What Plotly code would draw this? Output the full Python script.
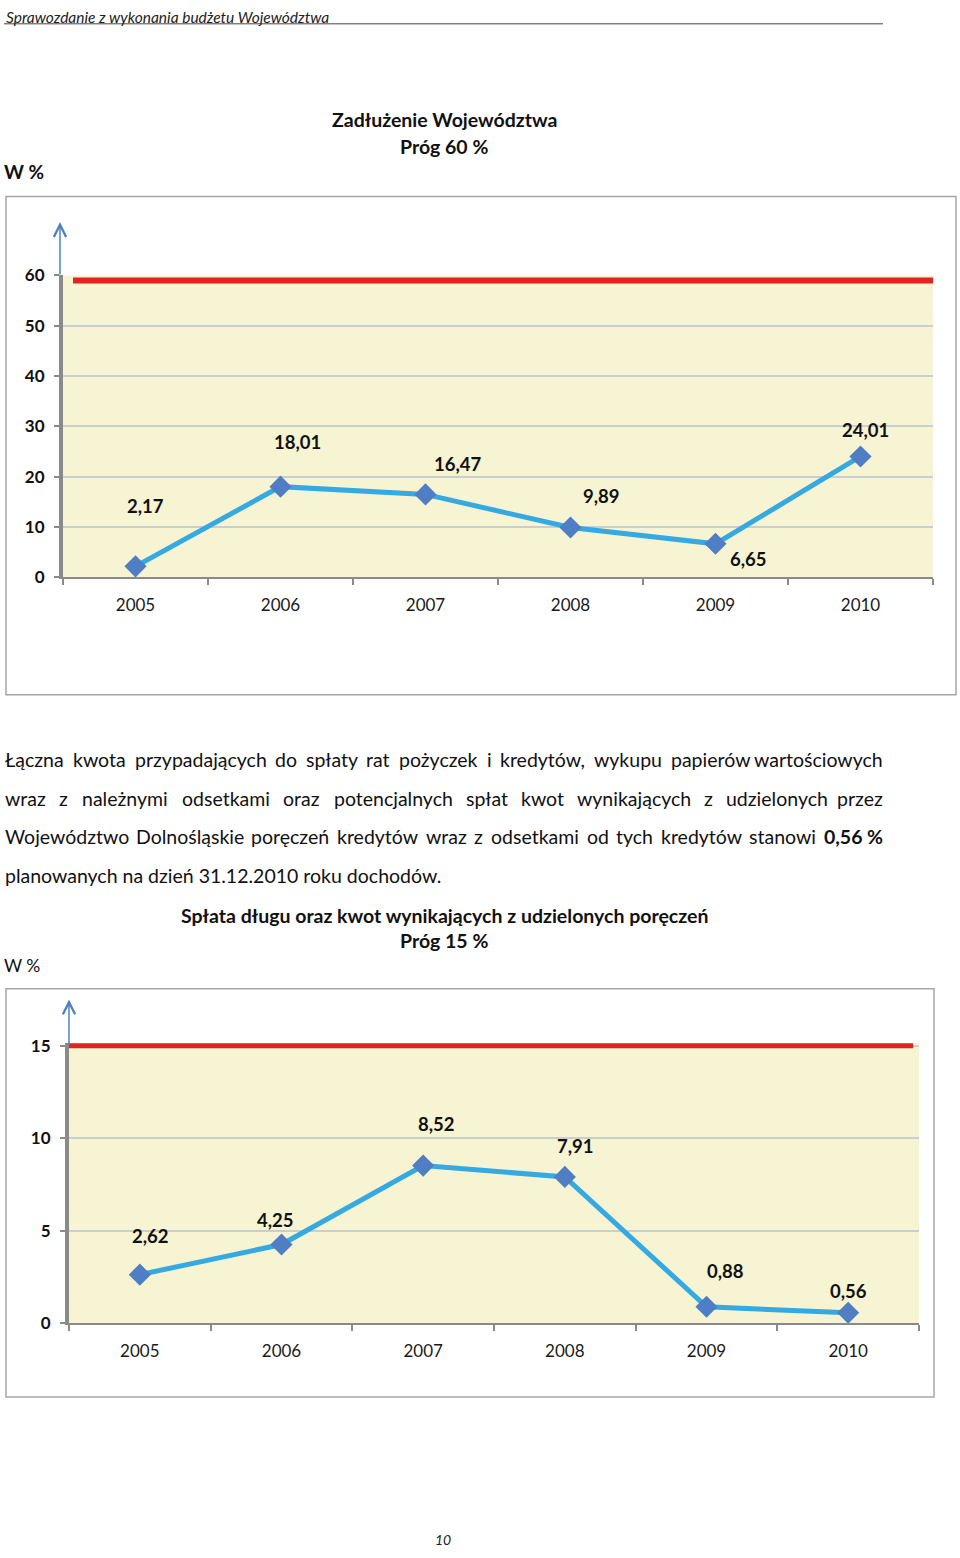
import plotly.graph_objects as go

W, H = 960, 1558
FONT = "Lato"

# ---------------- data ----------------
years = ["2005", "2006", "2007", "2008", "2009", "2010"]
debt_pct = [2.17, 18.01, 16.47, 9.89, 6.65, 24.01]          # Zadłużenie Województwa
repay_pct = [2.62, 4.25, 8.52, 7.91, 0.88, 0.56]            # Spłata długu ...
threshold_debt = 60
threshold_repay = 15
yticks_debt = [0, 10, 20, 30, 40, 50, 60]
yticks_repay = [0, 5, 10, 15]

# label offsets (pixels, right / up) for data labels
lab_off_debt = [(10, 60), (17, 45), (32, 30), (31, 32), (33, -15), (5, 26)]
lab_off_repay = [(11, 39), (-6, 25), (13, 42), (11, 31), (19, 36), (0, 22)]


def px(x):
    return x / W


def py(y):
    return 1 - y / H


def fmt(v):
    return f"{v:.2f}".replace(".", ",")


LINE_C = "#35A9E1"
MARK_C = "#4F7EC4"
RED_C = "#E2231F"
GRID_C = "#C9CDD6"
AXIS_C = "#8A8A8A"
BG_C = "#F6F4D3"

fig = go.Figure()
fig.add_trace(go.Scatter(
    x=years, y=debt_pct, mode="lines+markers", xaxis="x", yaxis="y",
    line=dict(color=LINE_C, width=5),
    marker=dict(symbol="diamond", size=17, color=MARK_C),
    showlegend=False, hoverinfo="skip"))
fig.add_trace(go.Scatter(
    x=years, y=repay_pct, mode="lines+markers", xaxis="x2", yaxis="y2",
    line=dict(color=LINE_C, width=5),
    marker=dict(symbol="diamond", size=17, color=MARK_C),
    showlegend=False, hoverinfo="skip"))

xcommon = dict(type="category", range=[-0.5, 5.5], showgrid=False, zeroline=False,
               showline=True, linecolor=AXIS_C, linewidth=1.5,
               ticks="outside", tickson="boundaries", ticklen=6, tickwidth=1.5,
               tickcolor=AXIS_C, ticklabelstandoff=12,
               tickfont=dict(family=FONT, size=17, color="#1a1a1a"))
ycommon = dict(showgrid=True, gridcolor=GRID_C, gridwidth=1.5, zeroline=False,
               showline=True, linecolor=AXIS_C, linewidth=4,
               ticks="outside", ticklen=5, tickwidth=1.5, tickcolor=AXIS_C,
               ticklabelstandoff=6,
               tickfont=dict(family=FONT, size=17, color="#111", weight="bold"))

# chart 2: plot area reaches a hair above 15 so the threshold line is not clipped
y2_top = 15.15
fig.update_layout(
    width=W, height=H, margin=dict(l=0, r=0, t=0, b=0),
    paper_bgcolor="white", plot_bgcolor=BG_C,
    xaxis=dict(**xcommon, domain=[px(63), px(933)], anchor="y"),
    yaxis=dict(**ycommon, domain=[py(574), py(268)], anchor="x",
               range=[0, 60], tickvals=yticks_debt),
    xaxis2=dict(**xcommon, domain=[px(69), px(919)], anchor="y2"),
    yaxis2=dict(**ycommon, domain=[py(1330), py(1330 - y2_top * 281 / 15)], anchor="x2",
                range=[0, y2_top], tickvals=yticks_repay),
)

shapes = []
# outer chart frames
shapes.append(dict(type="rect", xref="paper", yref="paper", x0=px(6), x1=px(956),
                   y0=py(693), y1=py(188), line=dict(color="#A6A6A6", width=1.5)))
shapes.append(dict(type="rect", xref="paper", yref="paper", x0=px(6), x1=px(934),
                   y0=py(1405), y1=py(991), line=dict(color="#A6A6A6", width=1.5)))
# header rule
shapes.append(dict(type="line", xref="paper", yref="paper", x0=px(4), x1=px(883),
                   y0=py(13), y1=py(13), line=dict(color="#444", width=1)))
# threshold lines
shapes.append(dict(type="line", xref="paper", yref="y", ysizemode="pixel",
                   yanchor=threshold_debt, y0=-5, y1=-5,
                   x0=px(73), x1=px(933), line=dict(color=RED_C, width=6)))
shapes.append(dict(type="line", xref="paper", yref="y2",
                   y0=threshold_repay, y1=threshold_repay,
                   x0=px(69), x1=px(913), line=dict(color=RED_C, width=5)))
fig.update_layout(shapes=shapes)

ann = []


def text(x, y, s, size=17, bold=False, italic=False, xanchor="left", color="#111"):
    ann.append(dict(xref="paper", yref="paper", x=px(x), y=py(y), text=s,
                    showarrow=False, xanchor=xanchor, yanchor="middle",
                    font=dict(family=FONT, size=size, color=color,
                              weight="bold" if bold else "normal",
                              style="italic" if italic else "normal")))


# header + page number
text(4, 6, "Sprawozdanie z wykonania budżetu Województwa", size=15.5, italic=True, color="#222")
text(443, 1549, "10", size=14, italic=True, xanchor="center", color="#222")

# chart 1 titles
text(444, 110, "Zadłużenie Województwa", size=19.5, bold=True, xanchor="center")
text(444, 137, "Próg 60 %", size=19.5, bold=True, xanchor="center")
text(2, 163, "W %", size=19, bold=True)

# chart 2 titles
text(444, 917, "Spłata długu oraz kwot wynikających z udzielonych poręczeń", size=19.5,
     bold=True, xanchor="center")
text(444, 942, "Próg 15 %", size=19.5, bold=True, xanchor="center")
text(2, 968, "W %", size=17.5)

# axis arrows
for (ax_x, tip_y, tail_y) in [(60, 214, 268), (69, 1002, 1049)]:
    ann.append(dict(xref="paper", yref="paper", x=px(ax_x), y=py(tip_y), ax=0,
                    ay=tail_y - tip_y, text="", showarrow=True, arrowhead=5,
                    arrowsize=1.6, arrowwidth=1.5, arrowcolor="#4F81BD"))

# data labels (category index positions)
for i, (v, (dx, dy)) in enumerate(zip(debt_pct, lab_off_debt)):
    ann.append(dict(xref="x", yref="y", x=i, y=v, text=fmt(v), showarrow=False,
                    xshift=dx, yshift=dy,
                    font=dict(family=FONT, size=18.5, color="#111", weight="bold")))
for i, (v, (dx, dy)) in enumerate(zip(repay_pct, lab_off_repay)):
    ann.append(dict(xref="x2", yref="y2", x=i, y=v, text=fmt(v), showarrow=False,
                    xshift=dx, yshift=dy,
                    font=dict(family=FONT, size=18.5, color="#111", weight="bold")))

# paragraph (justified lines)
CW = {'a': .51, 'b': .56, 'c': .46, 'd': .56, 'e': .53, 'f': .33, 'g': .50, 'h': .56,
      'i': .24, 'j': .24, 'k': .50, 'l': .24, 'm': .85, 'n': .56, 'o': .56, 'p': .56,
      'q': .56, 'r': .37, 's': .42, 't': .36, 'u': .56, 'v': .50, 'w': .77, 'x': .49,
      'y': .50, 'z': .45, 'ą': .51, 'ę': .53, 'ł': .28, 'ń': .56, 'ó': .56, 'ś': .42,
      'ż': .45, 'ź': .45, 'ć': .46, 'Ł': .55, 'W': .96, 'D': .72, ',': .22, '.': .22,
      '%': .78}
PFS = 19.5


def wwidth(w, bold=False):
    s = sum(CW.get(c, .58) for c in w) * PFS
    return s * (1.04 if bold else 1.0)


para = [
    ("Łączna kwota przypadających do spłaty rat pożyczek i kredytów, wykupu papierów wartościowych", 759, True),
    ("wraz z należnymi odsetkami oraz potencjalnych spłat kwot wynikających z udzielonych przez", 798, True),
    ("Województwo Dolnośląskie poręczeń kredytów wraz z odsetkami od tych kredytów stanowi 0,56 %", 837, True),
    ("planowanych na dzień 31.12.2010 roku dochodów.", 876, False),
]
bold_words = {"0,56", "%"}
LX0, LX1 = 3, 885
for line, yy, justify in para:
    if not justify:
        text(LX0, yy, line, size=PFS, color="#111")
        continue
    words = line.split(" ")
    widths = [wwidth(w, w in bold_words) for w in words]
    gap = (LX1 - LX0 - sum(widths)) / (len(words) - 1)
    xcur = LX0
    for i, (w, ww) in enumerate(zip(words, widths)):
        if i == len(words) - 1:
            text(LX1, yy, w, size=PFS, bold=w in bold_words, xanchor="right")
        else:
            text(xcur, yy, w, size=PFS, bold=w in bold_words)
        xcur += ww + gap

fig.update_layout(annotations=ann)
post = ("var d=document.getElementById('{plot_id}');"
        "d.style.position='absolute';d.style.left='0px';d.style.top='0px';"
        "document.body.style.margin='0px';document.body.style.overflow='hidden';"
        "document.documentElement.style.overflow='hidden';")
fig.write_html("out.html", config={"displayModeBar": False}, post_script=post)
